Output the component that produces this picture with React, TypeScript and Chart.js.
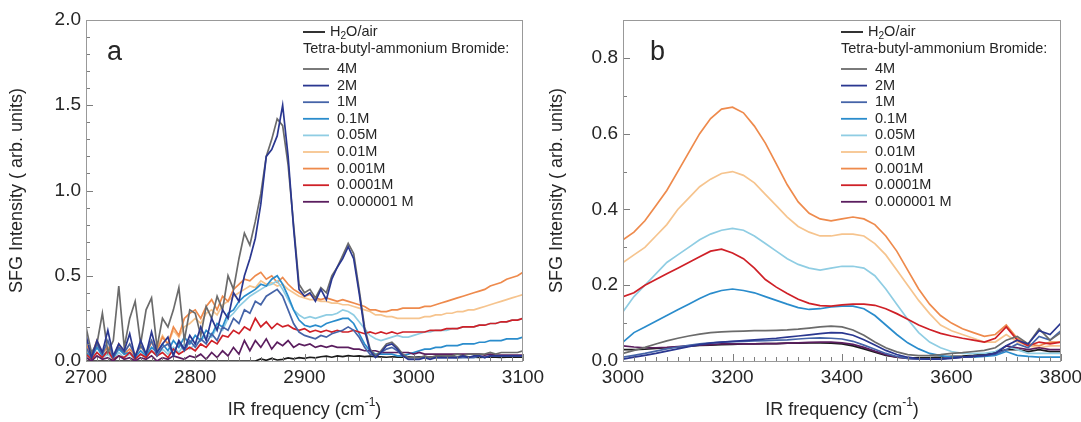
import { useEffect, useRef } from "react";
import { Chart, registerables } from "chart.js";

Chart.register(...registerables);

const FONT = "'Liberation Sans', Arial, Helvetica, sans-serif";
const TEXT = "#262626";

const SERIES_LABELS = ["H₂O/air", "4M", "2M", "1M", "0.1M", "0.05M", "0.01M", "0.001M", "0.0001M", "0.000001 M"];
const SERIES_COLORS = ["#1c1c1c", "#6b6b6b", "#2a3790", "#4564a8", "#2a8ccc", "#8fcde3", "#f6c48e", "#ee8a4c", "#cf2027", "#5b1e5f"];
const LAYER_ORDER = [10, 2, 1, 3, 6, 7, 9, 8, 5, 4];
const LEGEND_HEADER = "Tetra-butyl-ammonium Bromide:";
const Y_TITLE = "SFG Intensity ( arb. units)";
const X_TITLE = "IR frequency (cm";
const X_TITLE_SUP = "-1";

// ---------- Panel a : 2700 - 3100 cm-1 ----------
const X_TICKS_A = [2700, 2800, 2900, 3000, 3100];
const Y_TICKS_A = [0, 0.5, 1.0, 1.5, 2.0];

const FREQ_A = [
  2700, 2705, 2710, 2715, 2720, 2725, 2730, 2735, 2740, 2745,
  2750, 2755, 2760, 2765, 2770, 2775, 2780, 2785, 2790, 2795,
  2800, 2805, 2810, 2815, 2820, 2825, 2830, 2835, 2840, 2845,
  2850, 2855, 2860, 2865, 2870, 2875, 2880, 2885, 2890, 2895,
  2900, 2905, 2910, 2915, 2920, 2925, 2930, 2935, 2940, 2945,
  2950, 2955, 2960, 2965, 2970, 2975, 2980, 2985, 2990, 2995,
  3000, 3005, 3010, 3015, 3020, 3025, 3030, 3035, 3040, 3045,
  3050, 3055, 3060, 3065, 3070, 3075, 3080, 3085, 3090, 3095,
  3100,
];

const A_H2O = [
  0, 0, 0, 0, 0, 0, 0, 0, 0, 0,
  0, 0, 0, 0, 0, 0, 0, 0, 0, 0,
  0, 0, 0, 0, 0, 0, 0, 0, 0, 0,
  0, 0, 0.012, 0.004, 0.015, 0.006, 0.01, 0.018, 0.012, 0.02,
  0.015, 0.022, 0.018, 0.025, 0.028, 0.022, 0.03, 0.026, 0.032, 0.028,
  0.03, 0.026, 0.028, 0.025, 0.024, 0.022, 0.025, 0.023, 0.022, 0.024,
  0.022, 0.024, 0.021, 0.023, 0.022, 0.024, 0.022, 0.023, 0.021, 0.022,
  0.023, 0.022, 0.021, 0.022, 0.023, 0.022, 0.021, 0.022, 0.023, 0.022,
  0.022,
];
const A_4M = [
  0.2, 0.05, 0.1, 0.28, 0.05, 0.12, 0.44, 0.08, 0.25, 0.35,
  0.1, 0.3, 0.37, 0.08, 0.25, 0.2, 0.3, 0.43, 0.12, 0.3,
  0.28, 0.15, 0.32, 0.25, 0.38, 0.3, 0.5, 0.42, 0.6, 0.75,
  0.68, 0.82, 0.98, 1.2, 1.3, 1.42, 1.38, 1.15, 0.8, 0.45,
  0.4, 0.42, 0.37, 0.43, 0.4, 0.5, 0.55, 0.62, 0.69, 0.63,
  0.42, 0.2, 0.07, 0.03, 0.06, 0.1, 0.11, 0.08, 0.04, 0.02,
  0.02, 0.02, 0.03, 0.02, 0.03, 0.03, 0.03, 0.03, 0.04, 0.03,
  0.04, 0.04, 0.04, 0.04, 0.05, 0.04, 0.05, 0.05, 0.05, 0.05,
  0.06,
];
const A_2M = [
  0.15, 0.02, 0.12, 0.05, 0.18, 0.03, 0.1, 0.06, 0.16, 0.02,
  0.12, 0.04, 0.17, 0.05, 0.1, 0.14, 0.03, 0.12, 0.07, 0.15,
  0.1, 0.2, 0.12, 0.25, 0.18, 0.3, 0.25, 0.4, 0.35, 0.5,
  0.6, 0.72, 0.92, 1.2, 1.24, 1.32, 1.5, 1.2, 0.78, 0.42,
  0.38, 0.4, 0.35, 0.42, 0.36, 0.48, 0.55, 0.6, 0.67, 0.6,
  0.4, 0.18, 0.06, 0.02, 0.05, 0.09, 0.1, 0.07, 0.03, 0.01,
  0.01, 0.01, 0.02, 0.01, 0.02, 0.02, 0.02, 0.02, 0.02, 0.03,
  0.02, 0.03, 0.03, 0.02, 0.03, 0.03, 0.03, 0.03, 0.03, 0.03,
  0.03,
];
const A_1M = [
  0.08, 0.02, 0.1, 0.04, 0.12, 0.02, 0.08, 0.05, 0.1, 0.03,
  0.09, 0.04, 0.12, 0.03, 0.08, 0.1, 0.04, 0.11, 0.06, 0.12,
  0.08, 0.13, 0.1, 0.16, 0.12, 0.2, 0.18, 0.25, 0.22, 0.3,
  0.28, 0.35, 0.33, 0.38, 0.4, 0.42, 0.38, 0.3, 0.22, 0.17,
  0.15, 0.14, 0.13, 0.15, 0.14, 0.16, 0.17, 0.18, 0.2, 0.18,
  0.14, 0.08, 0.04, 0.03, 0.05, 0.07, 0.08, 0.06, 0.03, 0.02,
  0.02, 0.02, 0.02, 0.02, 0.02, 0.02, 0.02, 0.02, 0.02, 0.02,
  0.02, 0.02, 0.03, 0.02, 0.03, 0.03, 0.03, 0.03, 0.03, 0.03,
  0.03,
];
const A_0_1M = [
  0.05, 0.02, 0.08, 0.03, 0.06, 0.02, 0.07, 0.04, 0.05, 0.02,
  0.06, 0.03, 0.08, 0.05, 0.1, 0.06, 0.12, 0.08, 0.14, 0.1,
  0.15, 0.12, 0.18, 0.15, 0.22, 0.2, 0.28, 0.3, 0.35, 0.38,
  0.4, 0.42, 0.45, 0.44, 0.48, 0.5, 0.45, 0.38, 0.3, 0.24,
  0.21, 0.2, 0.21, 0.2, 0.22, 0.23, 0.24, 0.25, 0.25, 0.22,
  0.16, 0.1, 0.06, 0.04, 0.04, 0.04, 0.04, 0.03, 0.03, 0.04,
  0.05, 0.06, 0.07, 0.07, 0.08, 0.08, 0.09, 0.09, 0.09, 0.1,
  0.1, 0.1, 0.11, 0.11, 0.12, 0.12, 0.12, 0.13, 0.13, 0.13,
  0.14,
];
const A_0_05M = [
  0.03, 0.01, 0.05, 0.02, 0.04, 0.01, 0.05, 0.02, 0.04, 0.01,
  0.04, 0.02, 0.06, 0.03, 0.07, 0.04, 0.08, 0.05, 0.1, 0.07,
  0.1, 0.12, 0.15, 0.14, 0.2, 0.18, 0.25, 0.28, 0.32, 0.35,
  0.38, 0.4, 0.42, 0.44, 0.45, 0.47, 0.42, 0.36, 0.3, 0.27,
  0.25, 0.26, 0.25, 0.26, 0.27, 0.27, 0.28, 0.3, 0.29, 0.27,
  0.23, 0.19, 0.15, 0.13, 0.12, 0.13, 0.14, 0.15, 0.14, 0.14,
  0.15, 0.16, 0.17, 0.17, 0.18, 0.18, 0.18, 0.19, 0.19, 0.2,
  0.2, 0.2, 0.21, 0.21, 0.22, 0.22, 0.23, 0.23, 0.24, 0.24,
  0.25,
];
const A_0_01M = [
  0.06, 0.02, 0.09, 0.04, 0.08, 0.03, 0.07, 0.05, 0.1, 0.04,
  0.08, 0.05, 0.12, 0.08, 0.15, 0.1, 0.18, 0.14, 0.2, 0.22,
  0.25, 0.22, 0.28, 0.3, 0.27, 0.33, 0.35, 0.38, 0.4, 0.42,
  0.44, 0.43, 0.47, 0.45, 0.46, 0.44, 0.45, 0.42, 0.4, 0.38,
  0.37, 0.36, 0.36, 0.35, 0.35, 0.34, 0.34, 0.33, 0.33, 0.32,
  0.31, 0.3, 0.29, 0.27, 0.27, 0.26, 0.26, 0.25, 0.25, 0.25,
  0.25, 0.25, 0.26, 0.26, 0.27, 0.27, 0.28, 0.28, 0.29, 0.29,
  0.3, 0.3, 0.31, 0.32, 0.33, 0.34, 0.35, 0.36, 0.37, 0.38,
  0.39,
];
const A_0_001M = [
  0.1, 0.03, 0.12, 0.05, 0.08, 0.02, 0.1, 0.04, 0.07, 0.03,
  0.09, 0.04, 0.11, 0.06, 0.14, 0.1, 0.2, 0.15, 0.25, 0.28,
  0.3, 0.25, 0.32, 0.36, 0.3, 0.38, 0.35, 0.42, 0.45, 0.48,
  0.47, 0.5, 0.52, 0.48, 0.5, 0.46, 0.49, 0.45, 0.42, 0.4,
  0.38, 0.39, 0.37, 0.36, 0.37, 0.36, 0.35, 0.36, 0.35, 0.34,
  0.33, 0.32, 0.3, 0.3, 0.29, 0.29, 0.3, 0.3, 0.31, 0.31,
  0.31, 0.31, 0.32, 0.32, 0.33, 0.34, 0.35, 0.36, 0.37, 0.38,
  0.39, 0.4, 0.41, 0.42, 0.44, 0.45, 0.46, 0.48, 0.49, 0.5,
  0.52,
];
const A_0_0001M = [
  0.04, 0.01, 0.05, 0.02, 0.06, 0.01, 0.03, 0.02, 0.05, 0.01,
  0.04, 0.02, 0.06, 0.03, 0.05, 0.02, 0.07, 0.04, 0.06, 0.08,
  0.06, 0.1, 0.08, 0.12, 0.1, 0.15, 0.14, 0.18, 0.16, 0.2,
  0.18, 0.25, 0.2, 0.23, 0.19, 0.22, 0.2, 0.21, 0.19, 0.18,
  0.19, 0.17, 0.18, 0.17, 0.18, 0.17, 0.18, 0.17, 0.17, 0.18,
  0.17, 0.16, 0.17, 0.16, 0.17, 0.16, 0.17, 0.16, 0.17, 0.17,
  0.17, 0.17, 0.17, 0.18, 0.18, 0.18, 0.19, 0.19, 0.19, 0.2,
  0.2, 0.2, 0.21, 0.21, 0.22, 0.22, 0.23, 0.23, 0.24, 0.24,
  0.25,
];
const A_0_000001M = [
  0.02, 0, 0.03, 0.01, 0.02, 0, 0.03, 0.01, 0.02, 0,
  0.02, 0.01, 0.03, 0, 0.02, 0.01, 0.03, 0.02, 0.01, 0.03,
  0.02, 0.04, 0.01, 0.05, 0.02, 0.06, 0.03, 0.08, 0.04, 0.12,
  0.06, 0.12, 0.08, 0.13, 0.07, 0.11, 0.09, 0.12, 0.08, 0.1,
  0.09, 0.1, 0.08, 0.09, 0.08, 0.09, 0.08, 0.08, 0.08, 0.07,
  0.07, 0.06, 0.06, 0.06, 0.05, 0.05, 0.05, 0.05, 0.05, 0.05,
  0.04, 0.05, 0.04, 0.04, 0.04, 0.04, 0.04, 0.04, 0.04, 0.04,
  0.04, 0.04, 0.04, 0.035, 0.04, 0.035, 0.035, 0.035, 0.035, 0.035,
  0.035,
];

// ---------- Panel b : 3000 - 3800 cm-1 ----------
const X_TICKS_B = [3000, 3200, 3400, 3600, 3800];
const Y_TICKS_B = [0, 0.2, 0.4, 0.6, 0.8];

const FREQ_B = [
  3000, 3020, 3040, 3060, 3080, 3100, 3120, 3140, 3160, 3180,
  3200, 3220, 3240, 3260, 3280, 3300, 3320, 3340, 3360, 3380,
  3400, 3420, 3440, 3460, 3480, 3500, 3520, 3540, 3560, 3580,
  3600, 3620, 3640, 3660, 3680, 3700, 3720, 3740, 3760, 3780,
  3800,
];

const B_H2O = [
  0.03, 0.03, 0.031, 0.033, 0.035, 0.037, 0.039, 0.041, 0.042, 0.043,
  0.044, 0.045, 0.045, 0.046, 0.046, 0.047, 0.047, 0.048, 0.048, 0.047,
  0.045, 0.04, 0.032, 0.023, 0.015, 0.01, 0.008, 0.008, 0.009, 0.01,
  0.012, 0.013, 0.015, 0.018, 0.022, 0.03, 0.03, 0.025, 0.03, 0.025,
  0.025,
];
const B_4M = [
  0.02, 0.028, 0.036, 0.045, 0.053, 0.06, 0.066, 0.071, 0.075, 0.077,
  0.078, 0.079, 0.08, 0.08, 0.081, 0.082, 0.084, 0.087, 0.09, 0.092,
  0.09, 0.082, 0.068, 0.05, 0.035, 0.024, 0.017, 0.014, 0.015, 0.017,
  0.02, 0.022, 0.025, 0.028, 0.035, 0.055, 0.065, 0.045, 0.085, 0.055,
  0.075,
];
const B_2M = [
  0.005, 0.01, 0.015, 0.02, 0.026, 0.032, 0.038, 0.043, 0.047, 0.05,
  0.052, 0.054, 0.056, 0.058, 0.06, 0.063, 0.066, 0.069, 0.072, 0.075,
  0.074, 0.068, 0.056, 0.042, 0.028, 0.017, 0.01, 0.006, 0.005, 0.005,
  0.007, 0.01, 0.012, 0.015, 0.02, 0.04, 0.055, 0.045, 0.08, 0.07,
  0.1,
];
const B_1M = [
  0.01, 0.015, 0.02, 0.026, 0.032, 0.037, 0.041, 0.045, 0.048, 0.05,
  0.051, 0.052, 0.053, 0.054, 0.055, 0.056, 0.058, 0.06, 0.061, 0.06,
  0.058, 0.052, 0.042, 0.031, 0.02, 0.012, 0.007, 0.005, 0.005, 0.006,
  0.008, 0.01, 0.012, 0.014, 0.018, 0.03, 0.045, 0.035, 0.065, 0.055,
  0.08,
];
const B_0_1M = [
  0.05, 0.075, 0.09, 0.105, 0.12, 0.135, 0.15, 0.165, 0.178, 0.186,
  0.19, 0.186, 0.18, 0.17, 0.16, 0.15, 0.141, 0.136, 0.138, 0.143,
  0.145, 0.145, 0.138, 0.12, 0.095, 0.07, 0.048, 0.032, 0.02, 0.014,
  0.01, 0.01, 0.01, 0.012, 0.015, 0.025, 0.015, 0.012, 0.01, 0.01,
  0.01,
];
const B_0_05M = [
  0.13, 0.17, 0.2, 0.23, 0.26, 0.28, 0.3, 0.32, 0.335, 0.345,
  0.35, 0.345, 0.33, 0.31, 0.29, 0.27, 0.255, 0.245, 0.24, 0.245,
  0.25, 0.25, 0.245, 0.225, 0.19, 0.15, 0.11, 0.075, 0.05, 0.035,
  0.025, 0.02, 0.02, 0.02, 0.025, 0.04, 0.03, 0.02, 0.02, 0.02,
  0.02,
];
const B_0_01M = [
  0.26, 0.28, 0.3, 0.33, 0.36, 0.4, 0.43, 0.46, 0.48, 0.495,
  0.5, 0.49, 0.47, 0.44, 0.41, 0.38, 0.355, 0.34, 0.33, 0.33,
  0.335, 0.335, 0.33, 0.31, 0.28, 0.24, 0.2, 0.16, 0.125, 0.095,
  0.08, 0.07, 0.06, 0.05, 0.05, 0.07, 0.05, 0.04, 0.035, 0.04,
  0.04,
];
const B_0_001M = [
  0.32, 0.34, 0.37, 0.41, 0.45, 0.5, 0.55, 0.6, 0.64, 0.665,
  0.67, 0.655, 0.62, 0.575, 0.52, 0.465, 0.42, 0.39, 0.375, 0.37,
  0.375, 0.38, 0.375, 0.36, 0.33, 0.29, 0.24, 0.19, 0.15, 0.12,
  0.1, 0.085, 0.075, 0.065, 0.07, 0.095, 0.06, 0.045, 0.04, 0.05,
  0.05,
];
const B_0_0001M = [
  0.17, 0.18, 0.2, 0.215, 0.23, 0.245, 0.26, 0.275, 0.29, 0.295,
  0.285, 0.27, 0.245, 0.215, 0.195, 0.178, 0.163, 0.152, 0.146, 0.145,
  0.148, 0.15, 0.15, 0.147, 0.138, 0.125, 0.11, 0.095, 0.083, 0.073,
  0.066, 0.06, 0.055, 0.05, 0.06, 0.09, 0.055, 0.04, 0.05, 0.045,
  0.05,
];
const B_0_000001M = [
  0.04, 0.037, 0.035, 0.035, 0.036, 0.038, 0.04, 0.042, 0.043, 0.045,
  0.045, 0.045, 0.045, 0.046, 0.046, 0.047, 0.048, 0.049, 0.05, 0.05,
  0.048, 0.044, 0.036, 0.026, 0.017, 0.01, 0.007, 0.005, 0.005, 0.006,
  0.008, 0.01, 0.012, 0.015, 0.02, 0.04, 0.035, 0.03, 0.035, 0.03,
  0.03,
];

const SERIES_A = [A_H2O, A_4M, A_2M, A_1M, A_0_1M, A_0_05M, A_0_01M, A_0_001M, A_0_0001M, A_0_000001M];
const SERIES_B = [B_H2O, B_4M, B_2M, B_1M, B_0_1M, B_0_05M, B_0_01M, B_0_001M, B_0_0001M, B_0_000001M];

type PanelCfg = {
  letter: string;
  letterX: number;
  legendX: number;
  xMinor: number;
  yMinor: number;
  xTicks: number[];
  yTicks: number[];
  xMin: number;
  xMax: number;
  yMin: number;
  yMax: number;
  yAxisWidth: number;
  rightPad: number;
  yTitleX: number;
};

function near(v: number, list: number[]) {
  return list.some((t) => Math.abs(t - v) < 1e-6);
}

function drawLabel(ctx: CanvasRenderingContext2D, text: string, x: number, y: number, size: number) {
  const parts = text.split("₂");
  ctx.font = `${size}px ${FONT}`;
  if (parts.length === 1) {
    ctx.fillText(text, x, y);
    return;
  }
  ctx.fillText(parts[0], x, y);
  let cx = x + ctx.measureText(parts[0]).width;
  ctx.font = `${size * 0.7}px ${FONT}`;
  ctx.fillText("2", cx, y + size * 0.3);
  cx += ctx.measureText("2").width;
  ctx.font = `${size}px ${FONT}`;
  ctx.fillText(parts[1], cx, y);
}

function decor(cfg: PanelCfg) {
  return {
    id: "decor",
    afterDatasetsDraw(chart: any) {
      const { ctx, chartArea: a, scales } = chart;
      const xs = scales.x;
      const ys = scales.y;
      ctx.save();
      ctx.strokeStyle = "#7d7d7d";
      ctx.lineWidth = 1;
      ctx.beginPath();
      const nx = Math.round((cfg.xMax - cfg.xMin) / cfg.xMinor);
      for (let k = 0; k <= nx; k++) {
        const v = cfg.xMin + k * cfg.xMinor;
        const px = Math.round(xs.getPixelForValue(v)) + 0.5;
        const len = near(v, cfg.xTicks) ? 7 : 4;
        ctx.moveTo(px, a.bottom);
        ctx.lineTo(px, a.bottom - len);
      }
      const ny = Math.round((cfg.yMax - cfg.yMin) / cfg.yMinor);
      for (let k = 0; k <= ny; k++) {
        const v = cfg.yMin + k * cfg.yMinor;
        const py = Math.round(ys.getPixelForValue(v)) + 0.5;
        const len = near(v, cfg.yTicks) ? 7 : 4;
        ctx.moveTo(a.left, py);
        ctx.lineTo(a.left + len, py);
      }
      ctx.stroke();
      ctx.strokeStyle = "#999999";
      ctx.strokeRect(Math.round(a.left) + 0.5, Math.round(a.top) + 0.5, Math.round(a.right - a.left) - 1, Math.round(a.bottom - a.top));
      ctx.restore();
    },
    afterDraw(chart: any) {
      const { ctx, chartArea: a } = chart;
      ctx.save();
      ctx.fillStyle = TEXT;
      // panel letter
      ctx.font = `27px ${FONT}`;
      ctx.textBaseline = "alphabetic";
      ctx.textAlign = "left";
      ctx.fillText(cfg.letter, cfg.letterX, 60);

      // legend
      const X0 = cfg.legendX;
      ctx.textBaseline = "middle";
      ctx.lineWidth = 1.8;
      ctx.strokeStyle = SERIES_COLORS[0];
      ctx.beginPath();
      ctx.moveTo(X0, 32);
      ctx.lineTo(X0 + 22, 32);
      ctx.stroke();
      drawLabel(ctx, SERIES_LABELS[0], X0 + 27, 32, 14.5);
      ctx.font = `14.5px ${FONT}`;
      ctx.fillText(LEGEND_HEADER, X0, 49);
      for (let i = 1; i < SERIES_LABELS.length; i++) {
        const yy = 69 + (i - 1) * 16.6;
        ctx.strokeStyle = SERIES_COLORS[i];
        ctx.beginPath();
        ctx.moveTo(X0, yy);
        ctx.lineTo(X0 + 26, yy);
        ctx.stroke();
        drawLabel(ctx, SERIES_LABELS[i], X0 + 34, yy, 14.5);
      }

      // y title
      ctx.save();
      ctx.translate(cfg.yTitleX, (a.top + a.bottom) / 2);
      ctx.rotate(-Math.PI / 2);
      ctx.textAlign = "center";
      ctx.textBaseline = "middle";
      ctx.font = `18px ${FONT}`;
      ctx.fillText(Y_TITLE, 0, 0);
      ctx.restore();

      // x title
      ctx.font = `18px ${FONT}`;
      const w1 = ctx.measureText(X_TITLE).width;
      const w3 = ctx.measureText(")").width;
      ctx.font = `12px ${FONT}`;
      const w2 = ctx.measureText(X_TITLE_SUP).width;
      const cx = (a.left + a.right) / 2;
      let sx = cx - (w1 + w2 + w3) / 2;
      const ty = 410;
      ctx.textAlign = "left";
      ctx.textBaseline = "middle";
      ctx.font = `18px ${FONT}`;
      ctx.fillText(X_TITLE, sx, ty);
      sx += w1;
      ctx.font = `12px ${FONT}`;
      ctx.fillText(X_TITLE_SUP, sx, ty - 7);
      sx += w2;
      ctx.font = `18px ${FONT}`;
      ctx.fillText(")", sx, ty);
      ctx.restore();
    },
  };
}

function buildConfig(freq: number[], series: number[][], cfg: PanelCfg): any {
  const datasets = series.map((vals, i) => ({
    label: SERIES_LABELS[i],
    data: freq.map((f, j) => ({ x: f, y: vals[j] })),
    borderColor: SERIES_COLORS[i],
    backgroundColor: SERIES_COLORS[i],
    borderWidth: 1.7,
    pointRadius: 0,
    tension: 0,
    fill: false,
    order: LAYER_ORDER[i],
  }));
  return {
    type: "line",
    data: { datasets },
    options: {
      animation: false,
      responsive: false,
      devicePixelRatio: 1,
      events: [],
      layout: { padding: { top: 20, right: cfg.rightPad, left: 0, bottom: 0 } },
      plugins: { legend: { display: false }, tooltip: { enabled: false }, title: { display: false } },
      scales: {
        x: {
          type: "linear",
          min: cfg.xMin,
          max: cfg.xMax,
          grid: { display: false, drawTicks: false },
          border: { display: false },
          afterBuildTicks: (s: any) => {
            s.ticks = cfg.xTicks.map((v) => ({ value: v }));
          },
          afterFit: (s: any) => {
            s.height = 61;
            s.paddingLeft = 0;
            s.paddingRight = 0;
          },
          ticks: {
            font: { size: 19, family: FONT },
            color: TEXT,
            padding: 5,
            maxRotation: 0,
            autoSkip: false,
            callback: (v: any) => String(v),
          },
        },
        y: {
          type: "linear",
          min: cfg.yMin,
          max: cfg.yMax,
          grid: { display: false, drawTicks: false },
          border: { display: false },
          afterBuildTicks: (s: any) => {
            s.ticks = cfg.yTicks.map((v) => ({ value: v }));
          },
          afterFit: (s: any) => {
            s.width = cfg.yAxisWidth;
            s.paddingTop = 0;
            s.paddingBottom = 0;
          },
          ticks: {
            font: { size: 19, family: FONT },
            color: TEXT,
            padding: 5,
            autoSkip: false,
            callback: (v: any) => Number(v).toFixed(1),
          },
        },
      },
    },
    plugins: [decor(cfg)],
  };
}

const CFG_A: PanelCfg = {
  letter: "a",
  letterX: 107,
  legendX: 303,
  xMinor: 10,
  yMinor: 0.1,
  xTicks: X_TICKS_A,
  yTicks: Y_TICKS_A,
  xMin: 2700,
  xMax: 3100,
  yMin: 0,
  yMax: 2.0,
  yAxisWidth: 86,
  rightPad: 57,
  yTitleX: 17,
};

const CFG_B: PanelCfg = {
  letter: "b",
  letterX: 110,
  legendX: 301,
  xMinor: 20,
  yMinor: 0.1,
  xTicks: X_TICKS_B,
  yTicks: Y_TICKS_B,
  xMin: 3000,
  xMax: 3800,
  yMin: 0,
  yMax: 0.9,
  yAxisWidth: 83,
  rightPad: 39,
  yTitleX: 17,
};

export default function App() {
  const refA = useRef<HTMLCanvasElement>(null);
  const refB = useRef<HTMLCanvasElement>(null);

  useEffect(() => {
    document.body.style.margin = "0";
    document.body.style.overflow = "hidden";
    const ca = new Chart(refA.current as HTMLCanvasElement, buildConfig(FREQ_A, SERIES_A, CFG_A));
    const cb = new Chart(refB.current as HTMLCanvasElement, buildConfig(FREQ_B, SERIES_B, CFG_B));
    return () => {
      ca.destroy();
      cb.destroy();
    };
  }, []);

  return (
    <div style={{ position: "relative", width: 1081, height: 422, overflow: "hidden", background: "#ffffff" }}>
      <canvas ref={refA} width={580} height={422} style={{ position: "absolute", left: 0, top: 0, width: 580, height: 422 }} />
      <canvas ref={refB} width={560} height={422} style={{ position: "absolute", left: 540, top: 0, width: 560, height: 422 }} />
    </div>
  );
}
